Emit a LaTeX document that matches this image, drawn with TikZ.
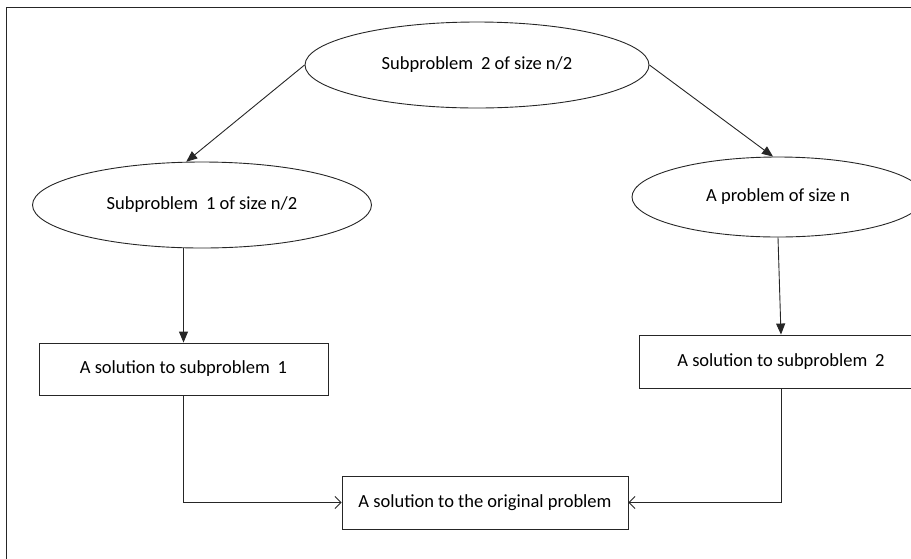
\documentclass[tikz,border=0pt]{standalone}
\usepackage{fontspec}
\setmainfont{Carlito}
\usetikzlibrary{shapes.geometric,arrows.meta}
\newcommand{\wsp}{\hspace{0.2em}}
\begin{document}
\begin{tikzpicture}[x=1pt,y=-1pt,
  every node/.style={font=\fontsize{18.5}{22}\selectfont, inner sep=0pt, draw=black!85, line width=0.9pt},
  oval/.style={ellipse},
  plainbox/.style={rectangle},
  link/.style={draw=black!85, line width=0.9pt},
  solid tip/.style={-{Triangle[length=11pt,width=9pt]}},
  open tip/.style={-{Straight Barb[length=6pt,width=12pt,line width=0.9pt]}}
]
\useasboundingbox (0,0) rectangle (911,558);
\clip (0,0) rectangle (911,558);

% page frame (left and top edges)
\coordinate (fbl) at (6,560);
\coordinate (ftl) at (6,7);
\coordinate (ftr) at (915,7);
\draw[link] (fbl) -- (ftl) -- (ftr);

% problem nodes
\node[oval, minimum width=344, minimum height=86] (top) at (477,65) {Subproblem\wsp\ 2 of size n/2};
\node[oval, minimum width=339, minimum height=86] (left) at (202,205) {Subproblem\wsp\ 1 of size n/2};
\node[oval, minimum width=292, minimum height=80] (right) at (778,197) {A problem of size n};

% solution boxes
\node[plainbox, minimum width=289, minimum height=52] (lsol) at (183.5,369) {A solution to subproblem\wsp\ 1};
\node[plainbox, minimum width=284, minimum height=53] (rsol) at (781,361.5) {A solution to subproblem\wsp\ 2};
\node[plainbox, minimum width=286, minimum height=53] (final) at (485,502.5) {A solution to the original problem};

% connectors
\draw[link, solid tip] (top.west) -- (left.110);
\draw[link, solid tip] (top.east) -- (right.97);
\draw[link, solid tip] (lsol.north |- left.south) -- (lsol.north);
\draw[link, solid tip] (right.south) -- (rsol.north);
\draw[link, open tip] (lsol.south) |- (final.west);
\draw[link, open tip] (rsol.south) |- (final.east);
\end{tikzpicture}
\end{document}
